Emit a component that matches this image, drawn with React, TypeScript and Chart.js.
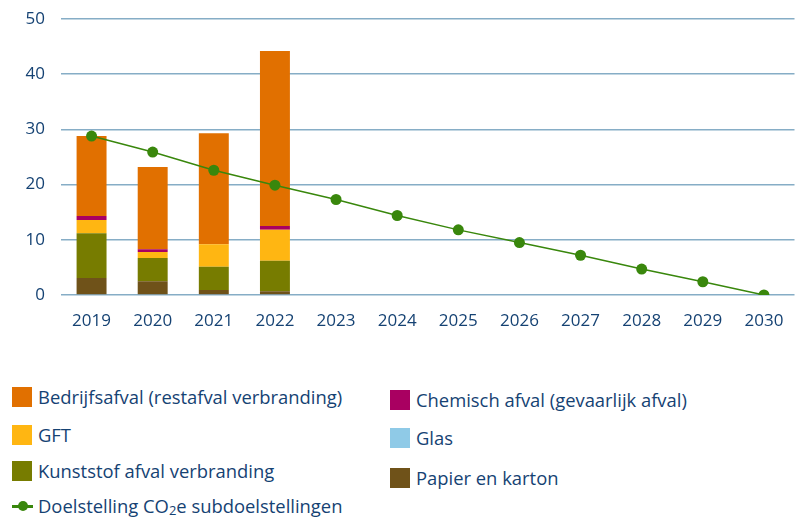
import React, { useEffect, useRef } from "react";
import { Chart, registerables } from "chart.js";

Chart.register(...registerables);

const years = ["2019", "2020", "2021", "2022", "2023", "2024", "2025", "2026", "2027", "2028", "2029", "2030"];
const papier = [3.1, 2.5, 0.9, 0.7, null, null, null, null, null, null, null, null];
const kunststof = [8.1, 4.2, 4.2, 5.5, null, null, null, null, null, null, null, null];
const gft = [2.4, 1.1, 4.1, 5.6, null, null, null, null, null, null, null, null];
const glas = [0, 0, 0, 0, null, null, null, null, null, null, null, null];
const chemisch = [0.7, 0.5, 0, 0.7, null, null, null, null, null, null, null, null];
const bedrijfsafval = [14.5, 14.9, 20.1, 31.7, null, null, null, null, null, null, null, null];
const doelstelling = [28.8, 25.9, 22.6, 19.9, 17.3, 14.4, 11.8, 9.5, 7.2, 4.7, 2.4, 0];
const yTicks = [0, 10, 20, 30, 40, 50];

const TEXT = "#154273";
const FONT = "'Open Sans', 'Noto Sans', sans-serif";

const COLORS = {
  bedrijf: "#e17000",
  gft: "#ffb612",
  kunststof: "#777c00",
  papier: "#6f5219",
  chemisch: "#a90061",
  glas: "#8fcae7",
  lijn: "#39870c",
};

const legendItems = [
  { label: "Bedrijfsafval (restafval verbranding)", color: COLORS.bedrijf, x: 12, y: 387 },
  { label: "GFT", color: COLORS.gft, x: 12, y: 425 },
  { label: "Kunststof afval verbranding", color: COLORS.kunststof, x: 12, y: 461 },
  { label: "Chemisch afval (gevaarlijk afval)", color: COLORS.chemisch, x: 390, y: 390 },
  { label: "Glas", color: COLORS.glas, x: 390, y: 428 },
  { label: "Papier en karton", color: COLORS.papier, x: 390, y: 468 },
];

export default function App() {
  const ref = useRef<HTMLCanvasElement>(null);
  useEffect(() => {
    if (!ref.current) return;
    const chart = new Chart(ref.current, {
      type: "bar",
      data: {
        labels: years,
        datasets: [
          { type: "line", label: "Doelstelling CO2e subdoelstellingen", data: doelstelling, borderColor: COLORS.lijn, backgroundColor: COLORS.lijn, borderWidth: 1.5, pointRadius: 5.5, pointBackgroundColor: COLORS.lijn, pointBorderWidth: 0, order: 0, stack: "line" } as any,
          { label: "Papier en karton", data: papier, backgroundColor: COLORS.papier, order: 1, stack: "a" },
          { label: "Kunststof afval verbranding", data: kunststof, backgroundColor: COLORS.kunststof, order: 1, stack: "a" },
          { label: "GFT", data: gft, backgroundColor: COLORS.gft, order: 1, stack: "a" },
          { label: "Glas", data: glas, backgroundColor: COLORS.glas, order: 1, stack: "a" },
          { label: "Chemisch afval (gevaarlijk afval)", data: chemisch, backgroundColor: COLORS.chemisch, order: 1, stack: "a" },
          { label: "Bedrijfsafval (restafval verbranding)", data: bedrijfsafval, backgroundColor: COLORS.bedrijf, order: 1, stack: "a" },
        ],
      },
      options: {
        animation: false,
        responsive: true,
        maintainAspectRatio: false,
        layout: { padding: { top: 19, right: 2, left: 0, bottom: 0 } },
        datasets: { bar: { barPercentage: 1, categoryPercentage: 0.49 } },
        plugins: { legend: { display: false }, tooltip: { enabled: false } },
        scales: {
          x: {
            stacked: true,
            grid: { display: false, drawTicks: false },
            border: { display: false },
            ticks: { color: TEXT, font: { family: FONT, size: 17 }, padding: 16, maxRotation: 0 },
            afterFit: (axis: any) => {
              axis.height = 45;
            },
          },
          y: {
            stacked: true,
            min: 0,
            max: 50,
            afterBuildTicks: (axis: any) => {
              axis.ticks = yTicks.map((v) => ({ value: v }));
            },
            afterFit: (axis: any) => {
              axis.width = 61;
              axis.paddingTop = 0;
              axis.paddingBottom = 0;
            },
            grid: { color: "#86adc6", lineWidth: 1.5, drawTicks: false },
            border: { display: false },
            ticks: { color: TEXT, font: { family: FONT, size: 17 }, padding: 16 },
          },
        },
      },
    });
    return () => chart.destroy();
  }, []);

  return (
    <div style={{ position: "fixed", left: 0, top: 0, width: 800, height: 519, background: "#fff", fontFamily: FONT, color: TEXT }}>
      <div style={{ position: "absolute", left: 0, top: 0, width: 800, height: 340 }}>
        <canvas ref={ref} />
      </div>
      {legendItems.map((it) => (
        <div key={it.label} style={{ position: "absolute", left: it.x, top: it.y, height: 20, display: "flex", alignItems: "center", whiteSpace: "nowrap" }}>
          <span style={{ display: "inline-block", width: 20, height: 20, background: it.color }} />
          <span style={{ marginLeft: 6, fontSize: 18.4, lineHeight: "20px" }}>{it.label}</span>
        </div>
      ))}
      <div style={{ position: "absolute", left: 12, top: 496, height: 20, display: "flex", alignItems: "center", whiteSpace: "nowrap" }}>
        <span style={{ position: "relative", display: "inline-block", width: 21, height: 20 }}>
          <span style={{ position: "absolute", left: 0, top: 8.5, width: 21, height: 3, background: COLORS.lijn }} />
          <span style={{ position: "absolute", left: 5.5, top: 5, width: 10, height: 10, borderRadius: 5, background: COLORS.lijn }} />
        </span>
        <span style={{ marginLeft: 5, fontSize: 18.4, lineHeight: "20px" }}>
          Doelstelling CO<sub style={{ fontSize: 13, verticalAlign: -2, lineHeight: 0 }}>2</sub>e subdoelstellingen
        </span>
      </div>
    </div>
  );
}
